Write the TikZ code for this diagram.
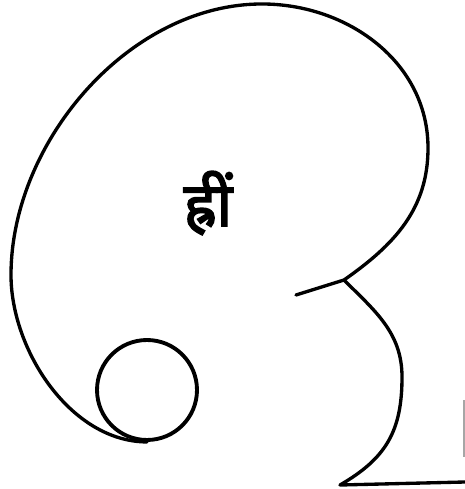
\documentclass[tikz,border=0pt]{standalone}
\usepackage{fontspec}
\newfontfamily\devfont[Script=Devanagari, FakeBold=2.5]{Noto Sans}
\usetikzlibrary{positioning}

\begin{document}
\begin{tikzpicture}[
  x=0.02cm, y=0.02cm,
  outline/.style={line width=1.9pt, line cap=round, line join=round},
  ring/.style={circle, draw, line width=2.2pt, minimum size=2cm, inner sep=0pt},
  scanline/.style={draw=gray!70, line width=0.6pt},
  seed/.style={font=\devfont\fontsize{35}{42}\selectfont, inner sep=0pt},
]
\useasboundingbox (0,0) rectangle (465,489);
% key points
\coordinate (tail) at (296,194);
\coordinate (joint) at (344,209);
\coordinate (right) at (428,341);
\coordinate (top) at (262,485);
\coordinate (left) at (11,214);
\coordinate (bulge) at (402,112);
\coordinate (corner) at (340,4);
\coordinate (edge) at (465,7);
\node[ring] (bindu) at (147,99) {};
\node[seed] (mantra) at (208,286) {ह्रीं};
% big lobe, ending on the small circle
\draw[outline] (tail) -- (joint)
  to[out=35, in=-90] (right)
  to[out=90, in=0] (top)
  to[out=180, in=90, looseness=0.92] (left)
  to[out=-90, in=180, looseness=0.9] (bindu.south);
% lower lobe down to the base line
\draw[outline] (joint) to[out=-45, in=90] (bulge)
  to[out=-90, in=30, looseness=1.1] (corner) -- (edge);
\draw[scanline] (464,89) -- (464,32);
\end{tikzpicture}
\end{document}
